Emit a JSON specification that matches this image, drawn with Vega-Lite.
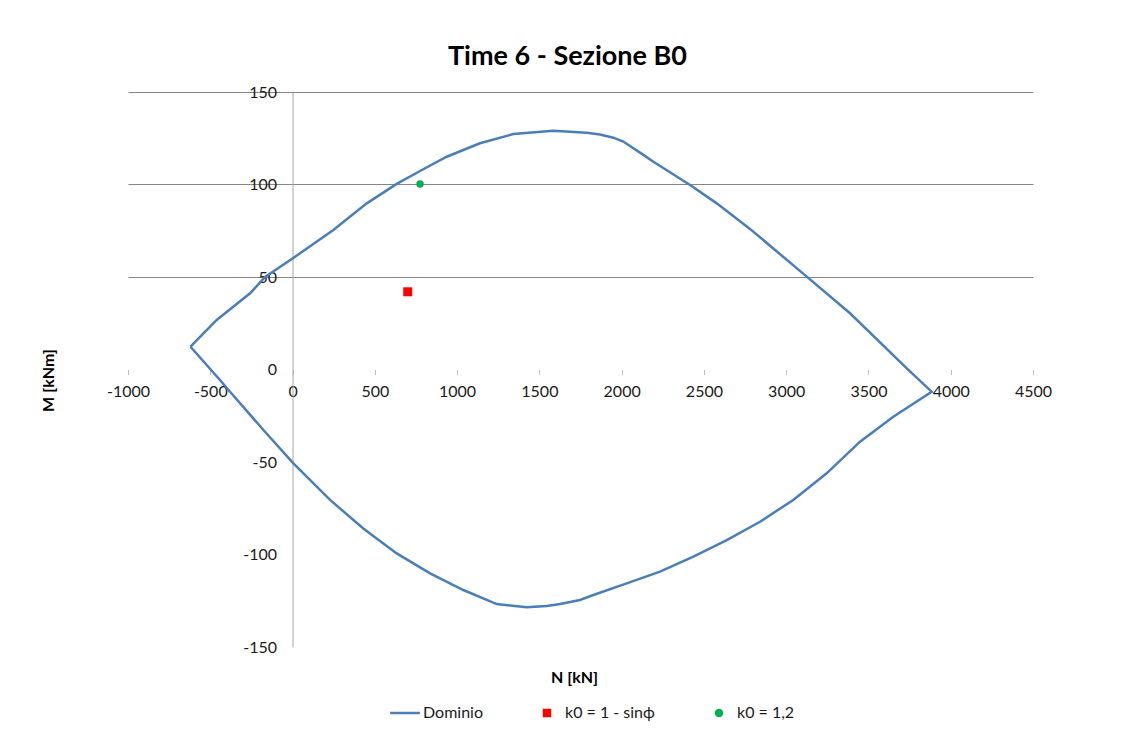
{
  "$schema": "https://vega.github.io/schema/vega-lite/v6.json",
  "width": 905,
  "height": 555,
  "autosize": "none",
  "padding": {"left": 128, "top": 92, "right": 99, "bottom": 93},
  "background": "white",
  "config": {"view": {"stroke": null}, "font": "Lato"},
  "title": {"text": "Time 6 - Sezione B0", "font": "Lato", "fontSize": 27, "fontWeight": "bold", "color": "#000000", "anchor": "middle", "dx": -13, "offset": 13},
  "datasets": {
    "dominio": [
      {"i": 0, "N": -620, "M": 12.3, "serie": "Dominio"},
      {"i": 1, "N": -461, "M": 26.8, "serie": "Dominio"},
      {"i": 2, "N": -258, "M": 41.2, "serie": "Dominio"},
      {"i": 3, "N": -167, "M": 50, "serie": "Dominio"},
      {"i": 4, "N": 0, "M": 60, "serie": "Dominio"},
      {"i": 5, "N": 248, "M": 75.4, "serie": "Dominio"},
      {"i": 6, "N": 451, "M": 89.8, "serie": "Dominio"},
      {"i": 7, "N": 633, "M": 100.3, "serie": "Dominio"},
      {"i": 8, "N": 775, "M": 107.3, "serie": "Dominio"},
      {"i": 9, "N": 937, "M": 115, "serie": "Dominio"},
      {"i": 10, "N": 1139, "M": 122.3, "serie": "Dominio"},
      {"i": 11, "N": 1342, "M": 127.3, "serie": "Dominio"},
      {"i": 12, "N": 1585, "M": 129.1, "serie": "Dominio"},
      {"i": 13, "N": 1788, "M": 128, "serie": "Dominio"},
      {"i": 14, "N": 1869, "M": 127, "serie": "Dominio"},
      {"i": 15, "N": 1950, "M": 125.3, "serie": "Dominio"},
      {"i": 16, "N": 2010, "M": 123.2, "serie": "Dominio"},
      {"i": 17, "N": 2132, "M": 116, "serie": "Dominio"},
      {"i": 18, "N": 2193, "M": 112.3, "serie": "Dominio"},
      {"i": 19, "N": 2416, "M": 99.7, "serie": "Dominio"},
      {"i": 20, "N": 2578, "M": 89.8, "serie": "Dominio"},
      {"i": 21, "N": 2780, "M": 76, "serie": "Dominio"},
      {"i": 22, "N": 3125, "M": 50.2, "serie": "Dominio"},
      {"i": 23, "N": 3388, "M": 30.4, "serie": "Dominio"},
      {"i": 24, "N": 3733, "M": 0.6, "serie": "Dominio"},
      {"i": 25, "N": 3884, "M": -12, "serie": "Dominio"},
      {"i": 26, "N": 3651, "M": -25.5, "serie": "Dominio"},
      {"i": 27, "N": 3449, "M": -39, "serie": "Dominio"},
      {"i": 28, "N": 3246, "M": -56.1, "serie": "Dominio"},
      {"i": 29, "N": 3043, "M": -70.5, "serie": "Dominio"},
      {"i": 30, "N": 2841, "M": -82.3, "serie": "Dominio"},
      {"i": 31, "N": 2639, "M": -92.2, "serie": "Dominio"},
      {"i": 32, "N": 2436, "M": -101.2, "serie": "Dominio"},
      {"i": 33, "N": 2233, "M": -109.3, "serie": "Dominio"},
      {"i": 34, "N": 2031, "M": -115.6, "serie": "Dominio"},
      {"i": 35, "N": 1828, "M": -121.9, "serie": "Dominio"},
      {"i": 36, "N": 1747, "M": -124.6, "serie": "Dominio"},
      {"i": 37, "N": 1626, "M": -126.8, "serie": "Dominio"},
      {"i": 38, "N": 1545, "M": -127.8, "serie": "Dominio"},
      {"i": 39, "N": 1423, "M": -128.5, "serie": "Dominio"},
      {"i": 40, "N": 1241, "M": -126.8, "serie": "Dominio"},
      {"i": 41, "N": 1038, "M": -119.2, "serie": "Dominio"},
      {"i": 42, "N": 836, "M": -110.2, "serie": "Dominio"},
      {"i": 43, "N": 633, "M": -99.4, "serie": "Dominio"},
      {"i": 44, "N": 430, "M": -85.9, "serie": "Dominio"},
      {"i": 45, "N": 228, "M": -70.5, "serie": "Dominio"},
      {"i": 46, "N": 5, "M": -50.7, "serie": "Dominio"},
      {"i": 47, "N": -177, "M": -32.7, "serie": "Dominio"},
      {"i": 48, "N": -380, "M": -12, "serie": "Dominio"},
      {"i": 49, "N": -441, "M": -5.7, "serie": "Dominio"},
      {"i": 50, "N": -620, "M": 12.3, "serie": "Dominio"}
    ],
    "punti": [
      {"N": 700, "M": 42, "serie": "k0 = 1 - sinϕ"},
      {"N": 775, "M": 100.3, "serie": "k0 = 1,2"}
    ]
  },
  "layer": [
    {
      "data": {"name": "dominio"},
      "mark": {"type": "line", "strokeWidth": 2.5, "interpolate": "linear"},
      "encoding": {
        "x": {
          "field": "N", "type": "quantitative",
          "scale": {"domain": [-1000, 4500], "nice": false, "zero": false},
          "axis": {
            "offset": -277.5,
            "values": [-1000, -500, 0, 500, 1000, 1500, 2000, 2500, 3000, 3500, 4000, 4500],
            "labelExpr": "'' + datum.value",
            "domain": false, "grid": false,
            "ticks": true, "tickSize": 5, "tickColor": "#c0c0c0", "tickWidth": 1,
            "labelFont": "Lato", "labelFontSize": 16, "labelColor": "#1a1a1a", "labelPadding": 9, "labelOverlap": false, "labelFlush": false,
            "title": "N [kN]", "titleFont": "Lato", "titleFontSize": 16, "titleFontWeight": "bold", "titleColor": "#000000",
            "titleX": 446, "titleY": 308, "titleBaseline": "middle", "titleAlign": "center"
          }
        },
        "y": {
          "field": "M", "type": "quantitative",
          "scale": {"domain": [-150, 150], "nice": false, "zero": false},
          "axis": {
            "offset": -164.5,
            "values": [-150, -100, -50, 0, 50, 100, 150],
            "labelExpr": "'' + datum.value",
            "domain": true, "domainColor": "#a6a6a6", "domainWidth": 1,
            "ticks": false, "tickSize": 0,
            "grid": true, "gridWidth": 1,
            "gridColor": {"condition": {"test": "datum.value > 0", "value": "#868686"}, "value": "transparent"},
            "labelFont": "Lato", "labelFontSize": 16, "labelColor": "#1a1a1a", "labelPadding": 16, "labelOverlap": false,
            "title": "M [kNm]", "titleFont": "Lato", "titleFontSize": 16, "titleFontWeight": "bold", "titleColor": "#000000",
            "titleX": -244.5, "titleY": 288, "titleBaseline": "middle", "titleAlign": "center", "titleAngle": -90
          }
        },
        "order": {"field": "i", "type": "quantitative"},
        "color": {
          "field": "serie", "type": "nominal",
          "scale": {"domain": ["Dominio", "k0 = 1 - sinϕ", "k0 = 1,2"], "range": ["#4A7EBB", "#FF0000", "#00B050"]},
          "legend": {
            "orient": "none", "legendX": 269, "legendY": 613, "direction": "horizontal", "title": null,
            "padding": 0, "columnPadding": 56, "labelOffset": 10, "symbolSize": 72,
            "labelFont": "Lato", "labelFontSize": 16, "labelColor": "#1a1a1a",
            "encode": {"symbols": {"update": {
              "fill": {"scale": "color", "field": "value"},
              "stroke": {"scale": "color", "field": "value"},
              "strokeWidth": {"signal": "datum.value === 'Dominio' ? 2.5 : 0"},
              "opacity": {"value": 1}
            }}}
          }
        }
      }
    },
    {
      "data": {"name": "punti"},
      "transform": [{"filter": "datum.serie === 'k0 = 1 - sinϕ'"}],
      "mark": {"type": "point", "filled": true, "opacity": 1, "size": 81},
      "encoding": {
        "x": {"field": "N", "type": "quantitative"},
        "y": {"field": "M", "type": "quantitative"},
        "color": {"field": "serie", "type": "nominal"},
        "shape": {
          "field": "serie", "type": "nominal",
          "scale": {"domain": ["Dominio", "k0 = 1 - sinϕ", "k0 = 1,2"], "range": ["M-3.5,0L3.5,0", "square", "circle"]},
          "legend": {
            "orient": "none", "legendX": 269, "legendY": 613, "direction": "horizontal", "title": null,
            "padding": 0, "columnPadding": 56, "labelOffset": 10, "symbolSize": 72,
            "labelFont": "Lato", "labelFontSize": 16, "labelColor": "#1a1a1a"
          }
        }
      }
    },
    {
      "data": {"name": "punti"},
      "transform": [{"filter": "datum.serie === 'k0 = 1,2'"}],
      "mark": {"type": "point", "filled": true, "opacity": 1, "size": 55},
      "encoding": {
        "x": {"field": "N", "type": "quantitative"},
        "y": {"field": "M", "type": "quantitative"},
        "color": {"field": "serie", "type": "nominal"},
        "shape": {"field": "serie", "type": "nominal"}
      }
    }
  ]
}
